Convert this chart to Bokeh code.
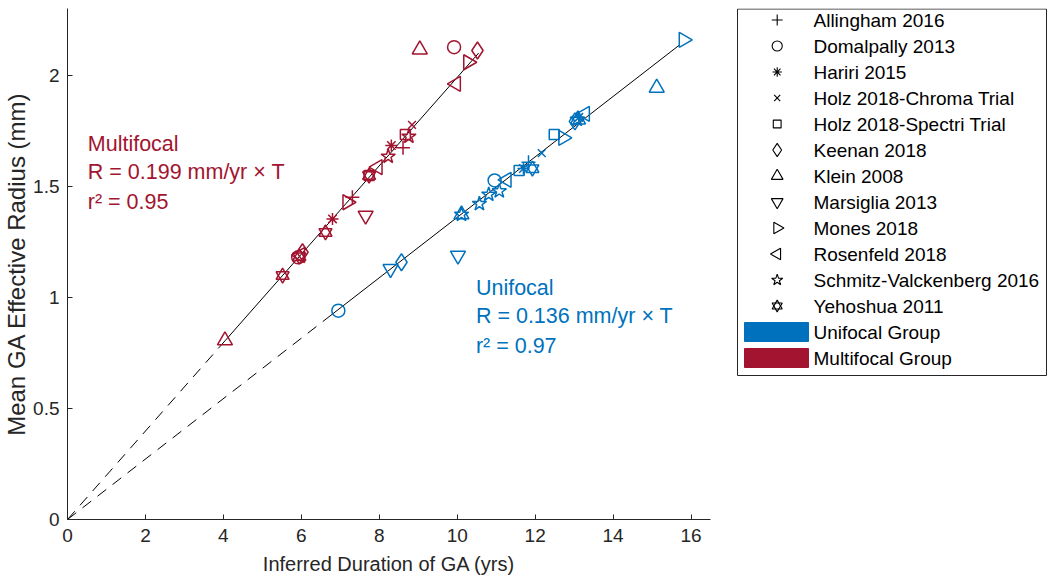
import numpy as np
from bokeh.plotting import figure
from bokeh.layouts import row
from bokeh.models import (Range1d, FixedTicker, NumeralTickFormatter, Label, ColumnDataSource)
from bokeh.core.properties import value
from bokeh.embed import file_html
from bokeh.resources import INLINE

# ---------------- data ----------------
studies = ["Allingham 2016", "Domalpally 2013", "Hariri 2015",
           "Holz 2018-Chroma Trial", "Holz 2018-Spectri Trial", "Keenan 2018",
           "Klein 2008", "Marsiglia 2013", "Mones 2018", "Rosenfeld 2018",
           "Schmitz-Valckenberg 2016", "Yehoshua 2011"]

multi_study = ["Allingham 2016", "Allingham 2016",
               "Domalpally 2013", "Domalpally 2013",
               "Hariri 2015", "Hariri 2015",
               "Holz 2018-Chroma Trial",
               "Holz 2018-Spectri Trial", "Holz 2018-Spectri Trial",
               "Keenan 2018", "Keenan 2018",
               "Klein 2008", "Klein 2008",
               "Marsiglia 2013",
               "Mones 2018", "Mones 2018",
               "Rosenfeld 2018", "Rosenfeld 2018", "Rosenfeld 2018",
               "Schmitz-Valckenberg 2016", "Schmitz-Valckenberg 2016",
               "Yehoshua 2011", "Yehoshua 2011", "Yehoshua 2011", "Yehoshua 2011"]
multi_x = [8.61, 7.31,
           9.92, 5.92,
           8.31, 6.80,
           8.84,
           8.67, 7.74,
           10.52, 6.03,
           9.04, 4.04,
           7.65,
           10.28, 7.18,
           9.97, 7.96, 5.97,
           8.76, 8.23,
           7.74, 6.62, 5.52, 5.95]
multi_y = [1.673, 1.451,
           2.126, 1.180,
           1.683, 1.353,
           1.776,
           1.733, 1.548,
           2.111, 1.203,
           2.115, 0.806,
           1.368,
           2.058, 1.428,
           1.961, 1.586, 1.190,
           1.724, 1.634,
           1.548, 1.292, 1.098, 1.183]

uni_study = ["Allingham 2016",
             "Domalpally 2013", "Domalpally 2013",
             "Hariri 2015", "Hariri 2015",
             "Holz 2018-Chroma Trial",
             "Holz 2018-Spectri Trial", "Holz 2018-Spectri Trial",
             "Keenan 2018", "Keenan 2018",
             "Klein 2008", "Klein 2008", "Klein 2008",
             "Marsiglia 2013", "Marsiglia 2013",
             "Mones 2018", "Mones 2018",
             "Rosenfeld 2018", "Rosenfeld 2018",
             "Schmitz-Valckenberg 2016", "Schmitz-Valckenberg 2016",
             "Schmitz-Valckenberg 2016", "Schmitz-Valckenberg 2016",
             "Schmitz-Valckenberg 2016",
             "Yehoshua 2011"]
uni_x = [11.83,
         6.95, 10.96,
         11.70, 13.12,
         12.17,
         11.59, 12.49,
         8.57, 13.02,
         15.12, 10.11, 13.10,
         10.02, 8.29,
         15.81, 12.72,
         11.27, 13.28,
         11.08, 10.81, 10.57, 10.11, 13.08,
         11.93]
uni_y = [1.608,
         0.940, 1.526,
         1.580, 1.810,
         1.649,
         1.571, 1.733,
         1.158, 1.792,
         1.943, 1.373, 1.800,
         1.188, 1.128,
         2.159, 1.718,
         1.529, 1.826,
         1.478, 1.463, 1.421, 1.373, 1.800,
         1.579]

uni_slope = 0.136
multi_slope = 0.199
uni_fit_span = [6.76, 15.70]
multi_fit_span = [4.04, 10.55]

x_ticks = [0, 2, 4, 6, 8, 10, 12, 14, 16]
y_ticks = [0, 0.5, 1, 1.5, 2]
group_labels = ["Unifocal Group", "Multifocal Group"]

# ---------------- style ----------------
UNI = "#0072BD"
MULTI = "#A2142F"
FONT = "Liberation Sans"
AXC = "#262626"

MARKERS = {
    "Allingham 2016": [("cross", 0.0, 14)],
    "Domalpally 2013": [("circle", 0.0, 13)],
    "Hariri 2015": [("asterisk", 0.0, 12)],
    "Holz 2018-Chroma Trial": [("x", 0.0, 11)],
    "Holz 2018-Spectri Trial": [("square", 0.0, 10)],
    "Keenan 2018": [("diamond", 0.0, 17)],
    "Klein 2008": [("triangle", 0.0, 15)],
    "Marsiglia 2013": [("inverted_triangle", 0.0, 15)],
    "Mones 2018": [("triangle", -np.pi / 2, 15)],
    "Rosenfeld 2018": [("triangle", np.pi / 2, 15)],
    "Schmitz-Valckenberg 2016": [("star", 0.0, 15)],
    "Yehoshua 2011": [("triangle", 0.0, 13), ("inverted_triangle", 0.0, 13)],
}

# ---------------- main plot ----------------
p = figure(width=735, height=581, x_range=Range1d(0, 16.5), y_range=Range1d(0, 2.3),
           output_backend="svg", toolbar_location=None,
           min_border_left=64, min_border_right=25, min_border_top=8, min_border_bottom=62)
p.outline_line_color = None
p.grid.visible = False
p.background_fill_color = "white"

for ax in (p.xaxis[0], p.yaxis[0]):
    ax.axis_line_color = AXC
    ax.axis_line_width = 1
    ax.major_tick_line_color = AXC
    ax.major_tick_in = 5
    ax.major_tick_out = 0
    ax.minor_tick_line_color = None
    ax.major_label_text_font = FONT
    ax.major_label_text_font_size = "19px"
    ax.major_label_text_color = AXC
    ax.axis_label_text_font = FONT
    ax.axis_label_text_font_style = "normal"
    ax.axis_label_text_color = AXC

p.xaxis.ticker = FixedTicker(ticks=x_ticks)
p.yaxis.ticker = FixedTicker(ticks=y_ticks)
p.yaxis.formatter = NumeralTickFormatter(format="0.[0]")
p.xaxis.axis_label = "Inferred Duration of GA (yrs)"
p.yaxis.axis_label = "Mean GA Effective Radius (mm)"
p.xaxis.axis_label_text_font_size = "20px"
p.yaxis.axis_label_text_font_size = "24px"
p.xaxis.major_label_standoff = 9
p.yaxis.major_label_standoff = 8
p.xaxis.axis_label_standoff = 8
p.yaxis.axis_label_standoff = 0

# fit lines
for slope, span in ((multi_slope, multi_fit_span), (uni_slope, uni_fit_span)):
    x0, x1 = span
    p.line([0, x0], [0, slope * x0], line_color="black", line_width=1, line_dash="11 8")
    p.line([x0, x1], [slope * x0, slope * x1], line_color="black", line_width=1)

# data points
def draw_group(study_list, xs, ys, color):
    for s in studies:
        idx = [i for i, st in enumerate(study_list) if st == s]
        if not idx:
            continue
        src = ColumnDataSource(dict(x=[xs[i] for i in idx], y=[ys[i] for i in idx]))
        for marker, ang, size in MARKERS[s]:
            p.scatter("x", "y", source=src, marker=marker, angle=ang, size=size,
                      line_color=color, fill_color=None, line_width=1.5)

draw_group(multi_study, multi_x, multi_y, MULTI)
draw_group(uni_study, uni_x, uni_y, UNI)

# annotation texts
texts = [
    ("Multifocal", 0.52, 1.692, MULTI), ("R = 0.199 mm/yr \u00d7 T", 0.52, 1.562, MULTI),
    ("r\u00b2 = 0.95", 0.52, 1.431, MULTI),
    ("Unifocal", 10.48, 1.044, UNI), ("R = 0.136 mm/yr \u00d7 T", 10.48, 0.914, UNI),
    ("r\u00b2 = 0.97", 10.48, 0.779, UNI),
]
for t, x, y, c in texts:
    p.add_layout(Label(x=x, y=y, text=t, text_color=c, text_font=FONT,
                       text_font_size="21.5px", text_baseline="middle", text_align="left"))

# ---------------- legend panel (pixel coordinates, y downward) ----------------
# the row aligns this panel's frame with the main frame (screen y 8..519)
lg = figure(width=315, height=581, x_range=Range1d(0, 315), y_range=Range1d(519, 8),
            output_backend="svg", toolbar_location=None,
            x_axis_location=None, y_axis_location=None,
            min_border_left=0, min_border_right=0, min_border_top=8, min_border_bottom=62)
lg.outline_line_color = None
lg.grid.visible = False

LG_LEFT, LG_RIGHT, LG_TOP, LG_BOTTOM = 2, 311, 8.5, 375
ROW0, PITCH = 19.5, 26.0
MARK_X, TEXT_X = 41.7, 78
lg.quad(left=[LG_LEFT], right=[LG_RIGHT], top=[LG_TOP], bottom=[LG_BOTTOM],
        fill_color="white", line_color=AXC, line_width=1)

labels = studies + group_labels
rows_y = [ROW0 + PITCH * i for i in range(len(labels))]
for s, yy in zip(studies, rows_y):
    for marker, ang, size in MARKERS[s]:
        lg.scatter([MARK_X], [yy], marker=marker, angle=ang, size=size * 0.78,
                   line_color="black", fill_color=None, line_width=1.1)
for lab, col, yy in zip(group_labels, (UNI, MULTI), rows_y[len(studies):]):
    lg.quad(left=[9], right=[73], top=[yy - 9.5], bottom=[yy + 9.5],
            fill_color=col, line_color=col)
lg.text(x=[TEXT_X] * len(labels), y=rows_y, text=labels, text_baseline="middle",
        text_align="left", text_font=value(FONT), text_font_size="19px", text_color="black")

layout = row(p, lg, spacing=0)
open("out.html", "w").write(file_html(layout, INLINE))
